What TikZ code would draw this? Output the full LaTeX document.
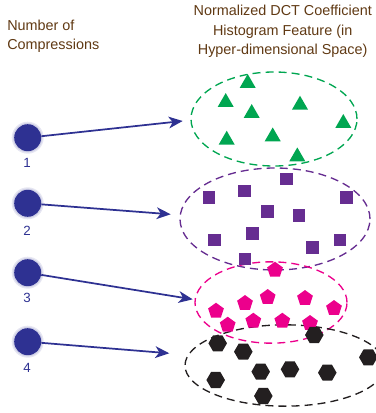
\documentclass[tikz,border=0pt]{standalone}
\usepackage{fontspec}
\setmainfont{Liberation Sans}
\usetikzlibrary{arrows.meta,shapes.geometric}
\definecolor{cblue}{HTML}{2E3192}
\definecolor{cbrown}{HTML}{603913}
\definecolor{cgreen}{HTML}{00A651}
\definecolor{cpurple}{HTML}{662D91}
\definecolor{cpink}{HTML}{EC008C}
\definecolor{cblack}{HTML}{231F20}
\begin{document}
\begin{tikzpicture}[x=0.75pt,y=-0.75pt,
  dot/.style={circle, fill=cblue, minimum size=20.25pt, inner sep=0pt},
  glow/.style={circle, fill=cblue, fill opacity=0.12, minimum size=#1, inner sep=0pt},
  num/.style={text=cblue, font=\fontsize{10pt}{11pt}\selectfont, anchor=base, inner sep=0pt},
  title/.style={text=cbrown, font=\fontsize{10.8pt}{13pt}\selectfont, anchor=base, inner sep=0pt},
  link/.style={draw=cblue, line width=1.3pt, -{Stealth[length=10.5pt,width=8.8pt,inset=3pt]}},
  cloud/.style={ellipse, draw=#1, dashed, line width=1pt, dash pattern=on 6pt off 3.8pt, inner sep=0pt},
  tri/.style={regular polygon, regular polygon sides=3, fill=cgreen, minimum size=13.9pt, inner sep=0pt},
  sq/.style={rectangle, fill=cpurple, minimum size=9.5pt, inner sep=0pt},
  pent/.style={regular polygon, regular polygon sides=5, fill=cpink, minimum size=12.4pt, inner sep=0pt},
  hexa/.style={regular polygon, regular polygon sides=6, fill=cblack, minimum size=13.9pt, inner sep=0pt}
]
\useasboundingbox (0,0) rectangle (375,413);

% titles
\node[title, anchor=base west] (l1) at (7,30.7) {Number of};
\node[title, anchor=base west] (l2) at (7,49.3) {Compressions};
\node[title] (r1) at (282.7,16) {Normalized DCT Coefficient};
\node[title] (r2) at (282.7,35.2) {Histogram Feature (in};
\node[title] (r3) at (282.7,54.2) {Hyper-dimensional Space)};

% clusters
\node[cloud=cgreen, minimum width=124.5pt, minimum height=70.5pt] (e1) at (274,119) {};
\node[cloud=cpurple, minimum width=142.5pt, minimum height=76.5pt] (e2) at (275,219) {};
\node[cloud=cpink, minimum width=114pt, minimum height=61pt] (e3) at (271,302.5) {};
\node[cloud=cblack, minimum width=150pt, minimum height=61pt] (e4) at (285,365.5) {};

\foreach \p [count=\i] in {(247.7,83.3),(225.7,102.3),(251.7,113.3),(300,105),(343.3,123.3),(226.7,140),(272.7,136.7),(297.3,156.7)}
  \node[tri] (t\i) at \p {};
\foreach \p [count=\i] in {(286.7,179),(244.3,191),(209,197.3),(346.7,197.3),(267.7,211.7),(299,215.7),(252.3,233.3),(214.3,240),(340,240),(312.7,247.7),(245,259)}
  \node[sq] (s\i) at \p {};
\foreach \p [count=\i] in {(275,270),(245,303.3),(267.7,297.3),(305,298.3),(334,308.3),(216,311),(227.7,325),(253.3,321),(282.3,321),(310,323.3)}
  \node[pent] (p\i) at \p {};
\foreach \p [count=\i] in {(314.3,335),(217.7,343.3),(243.3,351.7),(368.3,357.3),(260.7,371.7),(290,369.3),(327.3,372.7),(215.7,380),(263.3,396)}
  \node[hexa] (h\i) at \p {};

% compression dots
\foreach \y [count=\i] in {137.7,203.3,272.7,341.7}{
  \node[glow=24pt] (ga\i) at (27.7,\y) {};
  \node[glow=22pt] (gb\i) at (27.7,\y) {};
  \node[dot] (c\i) at (27.7,\y) {};
}
\node[num] (n1) at (27.2,167.3) {1};
\node[num] (n2) at (27.2,235) {2};
\node[num] (n3) at (27.2,302.3) {3};
\node[num] (n4) at (27.2,372.2) {4};

% arrows
\coordinate (a1) at (182.7,121);
\coordinate (a2) at (170.7,214.3);
\coordinate (a3) at (192.7,299.3);
\coordinate (a4) at (169.3,353.3);
\draw[link] (c1) -- (a1);
\draw[link] (c2) -- (a2);
\draw[link] (c3) -- (a3);
\draw[link] (c4) -- (a4);
\end{tikzpicture}
\end{document}
